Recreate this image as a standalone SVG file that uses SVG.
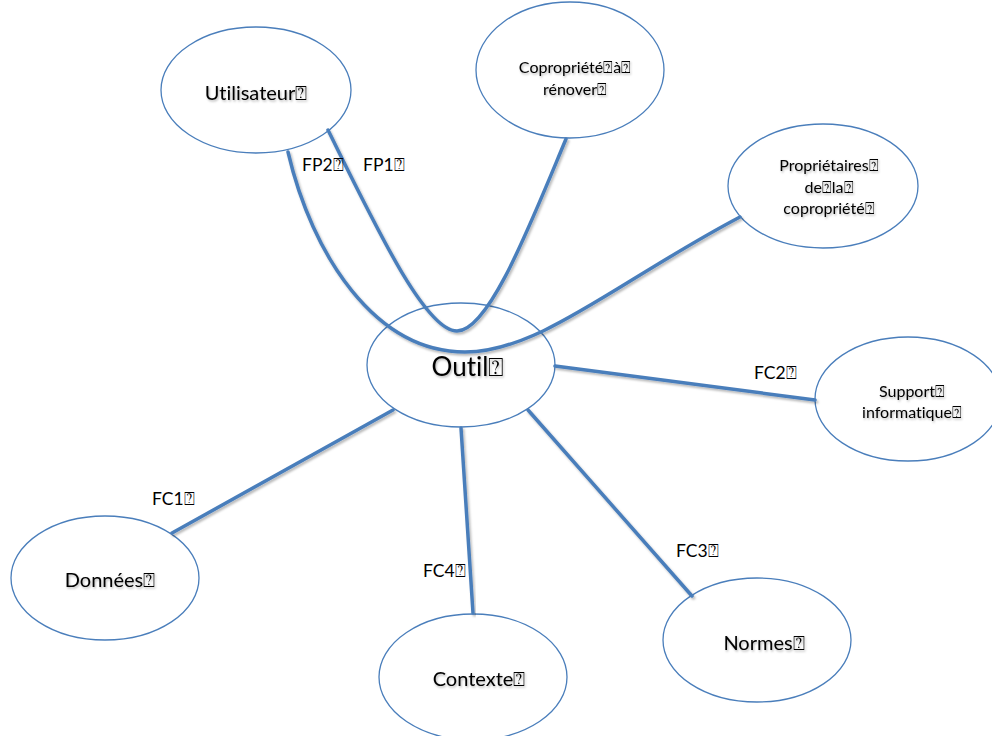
<svg xmlns="http://www.w3.org/2000/svg" width="992" height="736" viewBox="0 0 992 736">
<defs>
<filter id="sh" x="-20%" y="-20%" width="140%" height="140%">
<feDropShadow dx="1.5" dy="2" stdDeviation="1.2" flood-color="#000" flood-opacity="0.28"/>
</filter>
<filter id="tsh" x="-10%" y="-30%" width="120%" height="160%">
<feDropShadow dx="1" dy="1.5" stdDeviation="1" flood-color="#000" flood-opacity="0.3"/>
</filter>
</defs>
<style>
.n ellipse{fill:#fff;stroke:#4a7ebb;stroke-width:1.3}
.t{font-family:Lato,"Liberation Sans","DejaVu Sans",sans-serif;fill:#000;text-anchor:middle;filter:url(#tsh);font-variant-ligatures:none}
.c path,.c line{fill:none;stroke:#4a7ebb;stroke-width:3.5;stroke-linecap:round;filter:url(#sh)}
.l{font-family:Lato,"Liberation Sans","DejaVu Sans",sans-serif;fill:#000;font-size:17.5px;font-variant-ligatures:none}
</style>
<rect width="992" height="736" fill="#fff"/>
<g class="n" id="outil"><ellipse cx="461" cy="365" rx="94" ry="62"/><text class="t" x="468" y="376" font-size="26">Outil⍰</text></g>
<g class="n" id="utilisateur"><ellipse cx="256" cy="90" rx="95" ry="63"/><text class="t" x="256" y="100" font-size="20">Utilisateur⍰</text></g>
<g class="n" id="copropriete"><ellipse cx="570" cy="70" rx="94" ry="68"/><text class="t" x="575" y="73" font-size="16">Copropriété⍰à⍰</text><text class="t" x="575" y="95" font-size="16">rénover⍰</text></g>
<g class="n" id="proprietaires"><ellipse cx="823" cy="186" rx="95" ry="62"/><text class="t" x="829" y="171" font-size="16">Propriétaires⍰</text><text class="t" x="829" y="193" font-size="16">de⍰la⍰</text><text class="t" x="829" y="214" font-size="16">copropriété⍰</text></g>
<g class="n" id="support"><ellipse cx="908" cy="399" rx="93" ry="62"/><text class="t" x="912" y="397" font-size="16">Support⍰</text><text class="t" x="912" y="418" font-size="16">informatique⍰</text></g>
<g class="n" id="donnees"><ellipse cx="105" cy="578" rx="94" ry="62"/><text class="t" x="110" y="587" font-size="20">Données⍰</text></g>
<g class="n" id="contexte"><ellipse cx="473" cy="677" rx="94" ry="63"/><text class="t" x="479" y="686" font-size="20">Contexte⍰</text></g>
<g class="n" id="normes"><ellipse cx="757" cy="640" rx="94" ry="62"/><text class="t" x="764" y="650" font-size="20">Normes⍰</text></g>
<g class="c" id="connectors">
<path d="M328,130 C375,225 425,331 457,331 C489,331 530,225 566,139"/>
<path d="M288,152 C312,255 375,352 465,352 C540,352 620,280 740,217"/>
<line x1="555" y1="366" x2="815" y2="400"/>
<line x1="393" y1="410" x2="172" y2="533"/>
<line x1="461" y1="428" x2="473" y2="613"/>
<line x1="528" y1="410" x2="692" y2="596"/>
<text class="l" x="302" y="171">FP2⍰</text>
<text class="l" x="363" y="171">FP1⍰</text>
<text class="l" x="754" y="379">FC2⍰</text>
<text class="l" x="152" y="505">FC1⍰</text>
<text class="l" x="423" y="577">FC4⍰</text>
<text class="l" x="676" y="557">FC3⍰</text>
</g>
</svg>
